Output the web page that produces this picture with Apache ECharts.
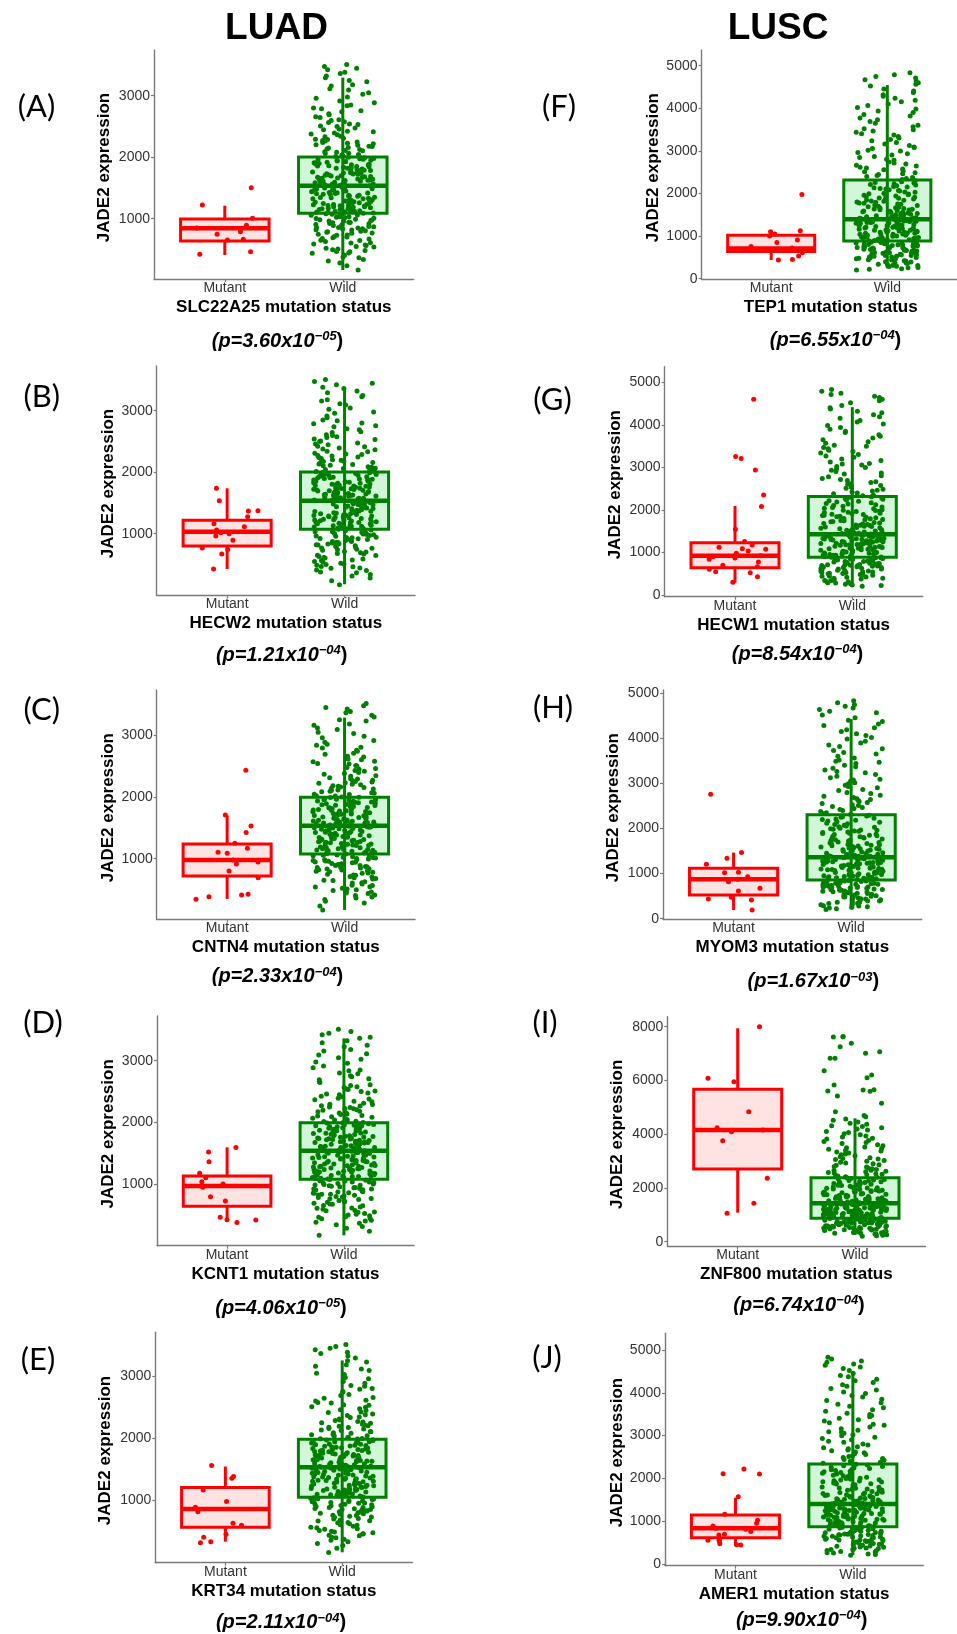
<!DOCTYPE html>
<html><head><meta charset="utf-8">
<script src="https://cdn.jsdelivr.net/npm/echarts@6/dist/echarts.min.js"></script>
<style>html,body{margin:0;padding:0;background:#fff}#c{width:957px;height:1634px}</style>
</head><body><div id="c"></div>
<script>
// ---------------- DATA ----------------
const categories = ['Mutant', 'Wild'];
const cohortTitles = ['LUAD', 'LUSC'];
const panelLabels = ['(A)','(B)','(C)','(D)','(E)','(F)','(G)','(H)','(I)','(J)'];
const genes = ['SLC22A25','HECW2','CNTN4','KCNT1','KRT34','TEP1','HECW1','MYOM3','ZNF800','AMER1'];
const pMantissa = ['3.60','1.21','2.33','4.06','2.11','6.55','8.54','1.67','6.74','9.90'];
const pExponent = ['05','04','04','05','04','04','04','03','04','04'];
const ticksLUAD = [1000, 2000, 3000];
const ticksLUSC = [0, 1000, 2000, 3000, 4000, 5000];
const ticksZNF800 = [0, 2000, 4000, 6000, 8000];

// box stats: [lower whisker, Q1, median, Q3, upper whisker]
const boxMutant = [
  [410, 637, 844, 995, 1211], [426, 800, 1033, 1218, 1738], [348, 720, 979, 1238, 1696],
  [389, 639, 968, 1130, 1595], [341, 572, 867, 1209, 1547],
  [437, 640, 710, 1020, 1125], [290, 643, 925, 1231, 2094], [193, 526, 874, 1119, 1467],
  [1079, 2705, 4156, 5671, 7940], [428, 615, 834, 1145, 1549]
];
const boxWild = [
  [166, 1088, 1537, 2003, 3293], [177, 1071, 1537, 2003, 3374], [170, 1076, 1534, 1993, 3282],
  [168, 1076, 1540, 1994, 3361], [170, 1054, 1537, 1987, 3251],
  [244, 885, 1394, 2317, 4547], [212, 886, 1427, 2314, 4416], [208, 859, 1363, 2304, 4430],
  [249, 871, 1429, 2381, 4591], [210, 872, 1402, 2336, 4439]
];

const mutA = [421, 463, 654, 665, 746, 789, 850, 893, 1006, 1223, 1504];
const mutB = [426, 670, 741, 768, 893, 962, 1000, 1016, 1060, 1114, 1163, 1276, 1369, 1372, 1537, 1738];
const mutC = [343, 385, 413, 424, 693, 801, 914, 946, 979, 1087, 1103, 1168, 1249, 1421, 1529, 1707, 2430];
const mutD = [378, 416, 419, 460, 725, 795, 946, 1000, 1037, 1102, 1173, 1362, 1519, 1594];
const mutE = [325, 341, 412, 460, 605, 637, 823, 894, 984, 1172, 1360, 1386, 1563];
const mutF = [437, 453, 531, 608, 652, 700, 722, 758, 852, 906, 1003, 1052, 1101, 1125, 1979];
const mutG = [298, 431, 525, 549, 604, 667, 702, 776, 839, 872, 902, 925, 981, 1035, 1075, 1090, 1122, 1176, 1255, 1545, 2078, 2353, 2941, 3208, 3255, 4604];
const mutH = [193, 415, 437, 474, 615, 674, 822, 874, 933, 1022, 1030, 1208, 1341, 1467, 2763];
const mutI = [1057, 1429, 2359, 3758, 4093, 4160, 4242, 4838, 5954, 6080, 8000];
const mutJ = [444, 452, 470, 545, 548, 552, 678, 694, 760, 811, 834, 888, 951, 1020, 1161, 1573, 2103, 2110, 2220];

// LUAD wild-type cohort (shared by panels A-E)
const luadWild = [
  168, 236, 281, 312, 338, 365, 379, 402, 411, 437, 444, 462, 468, 485, 497,
  509, 521, 541, 547, 566, 571, 590, 606, 611, 628, 646, 650, 671, 677, 690, 703, 712, 731, 737, 748, 762, 766, 781, 790, 797,
  804, 817, 820, 833, 836, 849, 856, 858, 871, 874, 889, 891, 903, 906, 918, 921, 933, 940, 944, 957, 962, 970, 981, 985, 993, 1002, 1009, 1018, 1024, 1031, 1033, 1048, 1055, 1060, 1074,
  1082, 1090, 1093, 1104, 1107, 1111, 1120, 1121, 1131, 1136, 1139, 1148, 1150, 1161, 1162, 1170, 1177, 1180, 1188, 1194, 1196, 1205, 1211, 1213, 1222, 1228, 1233, 1237, 1246, 1247, 1258, 1260, 1266, 1274, 1279, 1286, 1288, 1297,
  1301, 1310, 1313, 1323, 1326, 1332, 1342, 1345, 1351, 1360, 1364, 1370, 1381, 1383, 1393, 1397, 1406, 1410, 1419, 1422, 1428, 1438, 1441, 1451, 1454, 1465, 1467, 1474, 1482, 1487, 1496, 1500, 1509, 1512, 1521, 1525, 1533,
  1538, 1546, 1549, 1557, 1563, 1566, 1575, 1578, 1586, 1591, 1594, 1603, 1609, 1611, 1620, 1624, 1631, 1635, 1643, 1646, 1655, 1658, 1664, 1672, 1675, 1684, 1687, 1695, 1698, 1707, 1710, 1717, 1723, 1729, 1733, 1740, 1744, 1748,
  1757, 1761, 1770, 1775, 1784, 1788, 1795, 1804, 1808, 1819, 1822, 1829, 1838, 1843, 1850, 1858, 1863, 1873, 1876, 1886, 1890, 1897, 1906, 1911, 1918, 1927, 1931, 1940, 1945, 1952, 1961, 1965, 1974, 1979, 1988, 1992, 1998,
  2013, 2019, 2037, 2043, 2059, 2066, 2081, 2089, 2104, 2111, 2127, 2134, 2151, 2157, 2173, 2180, 2196, 2203, 2219, 2226, 2241, 2249, 2264, 2270, 2288, 2294,
  2310, 2333, 2341, 2365, 2377, 2392, 2415, 2424, 2447, 2459, 2476, 2498, 2508, 2533, 2541, 2566, 2576, 2598,
  2611, 2644, 2657, 2690, 2705, 2739, 2754, 2788, 2801, 2836, 2849, 2884,
  2912, 2957, 2979, 3024, 3046, 3091, 3113, 3158, 3180, 3226, 3248, 3291,
  3321, 3362, 3381, 3422, 3446, 3473, 3508
];

// LUSC wild-type cohort (shared by panels F, G, H, J; base of I)
const luscWild = [
  204, 221, 236, 255, 263, 284, 290, 311, 314, 336, 341, 359, 367, 374, 392, 396, 415, 421, 438, 443, 462, 466, 481, 487, 498,
  507, 512, 526, 529, 543, 547, 560, 563, 577, 580, 595, 598, 611, 614, 629, 631, 646, 649, 661, 667, 676, 683, 689, 694, 699,
  705, 714, 718, 729, 733, 740, 749, 752, 765, 767, 777, 786, 789, 800, 805, 812, 822, 824, 836, 838, 847, 857, 859, 871, 877,
  885, 895, 898, 910, 913, 921, 933, 935, 943, 954, 957, 965, 977, 979, 986, 999, 1001, 1012, 1020, 1023, 1031, 1043, 1045, 1052, 1066, 1068, 1075, 1088, 1090, 1098,
  1103, 1114, 1117, 1124, 1136, 1138, 1146, 1158, 1160, 1167, 1180, 1182, 1188, 1198, 1205, 1209, 1219, 1226, 1230, 1240, 1245, 1249,
  1255, 1264, 1267, 1276, 1281, 1290, 1294, 1303, 1307, 1317, 1320, 1330, 1333, 1342, 1347, 1356, 1360, 1369, 1374, 1383, 1387, 1393, 1399,
  1404, 1418, 1424, 1432, 1447, 1452, 1463, 1476, 1481, 1494, 1503, 1511, 1522, 1532, 1540, 1553, 1560, 1571, 1582, 1589, 1601, 1611, 1618, 1631, 1639, 1648, 1660, 1668, 1678, 1692,
  1703, 1721, 1728, 1745, 1751, 1770, 1777, 1793, 1801, 1818, 1825, 1842, 1849, 1867, 1872, 1891, 1897, 1915, 1921, 1939, 1946, 1962, 1970, 1986, 1995,
  2006, 2027, 2038, 2059, 2071, 2089, 2105, 2119, 2137, 2153, 2166, 2184, 2201, 2213, 2231, 2249, 2261, 2278, 2297, 2310,
  2331, 2352, 2378, 2398, 2421, 2444, 2465, 2487, 2512, 2529, 2557, 2575, 2601, 2618, 2646, 2663, 2690,
  2715, 2741, 2780, 2802, 2846, 2867, 2903, 2931, 2960, 2996, 3018, 3055, 3079, 3092,
  3126, 3160, 3198, 3239, 3265, 3301, 3338, 3372, 3405, 3441, 3470, 3495,
  3521, 3566, 3604, 3651, 3688, 3731, 3770, 3819, 3852, 3899, 3936, 3984,
  4018, 4066, 4102, 4155, 4190, 4238, 4283, 4319, 4372, 4404, 4455, 4521,
  4567, 4602, 4641, 4673, 4712, 4745, 4789, 4832
];
// ZNF800 wild-type high values (panel I)
const znf800WildHigh = [4650, 4700, 4838, 5150, 5421, 5600, 5610, 5644, 5650, 5830, 6102, 6203, 6363, 6822, 6830, 7008, 7070, 7256, 7380, 7620, 7628, 7635];

const mutantPoints = [mutA, mutB, mutC, mutD, mutE, mutF, mutG, mutH, mutI, mutJ];
const wildPoints = [luadWild, luadWild, luadWild, luadWild, luadWild,
  luscWild, luscWild, luscWild,
  luscWild.filter(v => v <= 4600).concat(znf800WildHigh),
  luscWild];
const yTicks = [ticksLUAD, ticksLUAD, ticksLUAD, ticksLUAD, ticksLUAD,
  ticksLUSC, ticksLUSC, ticksLUSC, ticksZNF800, ticksLUSC];

// ---------------- LAYOUT ----------------
const layout = [
  {l:154,   r:413.6, t:50,     b:279,    ymin:20,   ymax:3743, lab:[36.5,107],  yn:104, px:277.5, py:341},
  {l:156.7, r:415,   t:366,    b:595,    ymin:3,    ymax:3727, lab:[41.7,397],  yn:108, px:281.7, py:655},
  {l:156.7, r:415,   t:690,    b:919.3,  ymin:19,   ymax:3728, lab:[41.7,710],  yn:108, px:277.5, py:976.7},
  {l:157,   r:414,   t:1016,   b:1245.7, ymin:0,    ymax:3724, lab:[43,1023],   yn:108, px:281,   py:1308},
  {l:155.3, r:412.3, t:1332.3, b:1562.7, ymin:3,    ymax:3703, lab:[38,1360],   yn:105, px:281,   py:1622.7},
  {l:701.5, r:960,   t:50,     b:279.3,  ymin:-14,  ymax:5369, lab:[559,107],   yn:653, px:835.5, py:340},
  {l:664.6, r:922.7, t:366.7,  b:596.7,  ymin:-40,  ymax:5367, lab:[552.5,400], yn:615, px:797.5, py:654},
  {l:663,   r:921.7, t:690,    b:919.3,  ymin:-13,  ymax:5073, lab:[553,708],   yn:613, px:813.3, py:981.7},
  {l:667.3, r:925.4, t:1016.7, b:1246,   ymin:-160, ymax:8372, lab:[545,1023],  yn:617, px:799,   py:1305},
  {l:665,   r:923.3, t:1333.3, b:1565.7, ymin:-40,  ymax:5390, lab:[547,1358],  yn:617, px:801.7, py:1620}
];
const titlePos = [[276.5, 28.5], [778, 28.5]];

const FONT = "'Liberation Sans', Arial, sans-serif";
const AXIS = '#7a7a7a';
const RED = '#ff0000', RED_FILL = '#ffe3e3';
const GREEN = '#008000', GREEN_FILL = '#d2f7d8';
const JW = 0.27, HW = 0.375;

function jitter(k, seed) {
  const s = Math.sin((k + 1) * 12.9898 + seed * 78.233) * 43758.5453;
  return (s - Math.floor(s)) * 2 - 1;
}

function renderBox(params, api) {
  const cat = api.value(0);
  const lo = api.value(1), q1 = api.value(2), med = api.value(3), q3 = api.value(4), hi = api.value(5);
  const stroke = cat === 0 ? RED : GREEN;
  const fill = cat === 0 ? RED_FILL : GREEN_FILL;
  const tl = api.coord([cat - HW, q3]), br = api.coord([cat + HW, q1]);
  const c = v => api.coord([cat, v]);
  const ls = {stroke: stroke, lineWidth: 3, fill: null};
  const children = [];
  children.push({type:'rect', shape:{x:tl[0], y:tl[1], width:br[0]-tl[0], height:br[1]-tl[1]},
    style:{fill: fill, stroke: stroke, lineWidth: 3}});
  if (cat === 1) {
    children.push({type:'line', shape:{x1:c(lo)[0], y1:c(lo)[1], x2:c(hi)[0], y2:c(hi)[1]}, style:ls});
  } else {
    children.push({type:'line', shape:{x1:c(q3)[0], y1:c(q3)[1], x2:c(hi)[0], y2:c(hi)[1]}, style:ls});
    children.push({type:'line', shape:{x1:c(q1)[0], y1:c(q1)[1], x2:c(lo)[0], y2:c(lo)[1]}, style:ls});
  }
  const ml = api.coord([cat - HW, med]), mr = api.coord([cat + HW, med]);
  children.push({type:'line', shape:{x1:ml[0], y1:ml[1], x2:mr[0], y2:mr[1]}, style:{stroke: stroke, lineWidth: 4.5}});
  return {type:'group', children: children};
}

const grids = [], xAxes = [], yAxes = [], series = [], graphics = [];

cohortTitles.forEach((t, j) => {
  graphics.push({type:'text', x: titlePos[j][0], y: titlePos[j][1],
    style:{text: t, fill:'#000', fontSize: 37, fontWeight:'bold', fontFamily: FONT,
      align:'center', verticalAlign:'middle', textAlign:'center', textVerticalAlign:'middle'}});
});

layout.forEach((L, i) => {
  grids.push({left: L.l, top: L.t, width: L.r - L.l, height: L.b - L.t, containLabel: false});
  xAxes.push({
    type:'value', gridIndex: i, min: -0.6, max: 1.6,
    splitLine:{show:false},
    axisLine:{show:true, onZero:false, lineStyle:{color: AXIS, width: 1.4}},
    axisTick:{show:true, length:3, customValues:[0, 1], lineStyle:{color: AXIS, width: 1.2}},
    axisLabel:{show:true, customValues:[0, 1], formatter: v => categories[Math.round(v)],
      margin: 2, fontSize: 14, color:'#333', fontFamily: FONT}
  });
  yAxes.push({
    type:'value', gridIndex: i, min: L.ymin, max: L.ymax,
    splitLine:{show:false},
    axisLine:{show:true, onZero:false, lineStyle:{color: AXIS, width: 1.4}},
    axisTick:{show:true, length:3, customValues: yTicks[i], lineStyle:{color: AXIS, width: 1.2}},
    axisLabel:{show:true, customValues: yTicks[i], formatter: v => String(Math.round(v)),
      margin: 4, fontSize: 14, color:'#333', fontFamily: FONT}
  });
  series.push({
    type:'custom', xAxisIndex: i, yAxisIndex: i, silent: true, z: 2, clip: false,
    renderItem: renderBox,
    encode:{x:0, y:[1,2,3,4,5]},
    data: [[0].concat(boxMutant[i]), [1].concat(boxWild[i])]
  });
  series.push({
    type:'scatter', xAxisIndex: i, yAxisIndex: i, silent: true, z: 3,
    symbolSize: 5, itemStyle:{color: GREEN, opacity: 1},
    data: wildPoints[i].map((v, k) => [1 + jitter(k, i * 2 + 1) * JW, v])
  });
  series.push({
    type:'scatter', xAxisIndex: i, yAxisIndex: i, silent: true, z: 4,
    symbolSize: 5, itemStyle:{color: RED, opacity: 1},
    data: mutantPoints[i].map((v, k) => [jitter(k, i * 2 + 7) * JW, v])
  });

  // panel label
  graphics.push({type:'text', x: L.lab[0], y: L.lab[1],
    style:{text: panelLabels[i], fill:'#000', fontSize: 31, fontFamily:"Lato, 'Open Sans', sans-serif",
      align:'center', verticalAlign:'middle', textAlign:'center', textVerticalAlign:'middle'}});
  // y axis title
  graphics.push({type:'text', x: L.yn, y: (L.t + L.b) / 2 + 3, rotation: Math.PI / 2,
    style:{text:'JADE2 expression', fill:'#000', fontSize: 17, fontWeight:'bold', fontFamily: FONT,
      align:'center', verticalAlign:'middle', textAlign:'center', textVerticalAlign:'middle'}});
  // x axis title
  graphics.push({type:'text', x: (L.l + L.r) / 2, y: L.b + 28.5,
    style:{text: genes[i] + ' mutation status', fill:'#000', fontSize: 17, fontWeight:'bold', fontFamily: FONT,
      align:'center', verticalAlign:'middle', textAlign:'center', textVerticalAlign:'middle'}});
  // p-value
  graphics.push({type:'text', x: L.px, y: L.py,
    style:{text: '{m|(p=' + pMantissa[i] + 'x10}{s|\u2212' + pExponent[i] + '}{c|)}',
      align:'center', verticalAlign:'middle', textAlign:'center', textVerticalAlign:'middle',
      rich:{
        m:{fontSize:20, fontWeight:'bold', fontStyle:'italic', fontFamily: FONT, fill:'#000', color:'#000', lineHeight:22},
        s:{fontSize:13, fontWeight:'bold', fontStyle:'italic', fontFamily: FONT, fill:'#000', color:'#000', verticalAlign:'top', lineHeight:13},
        c:{fontSize:20, fontWeight:'bold', fontFamily: FONT, fill:'#000', color:'#000', lineHeight:22}
      }}});
});

const chart = echarts.init(document.getElementById('c'), null, {renderer:'canvas', width:957, height:1634});
chart.setOption({
  animation: false,
  backgroundColor: '#fff',
  grid: grids, xAxis: xAxes, yAxis: yAxes, series: series, graphic: graphics
});
</script>
</body></html>
